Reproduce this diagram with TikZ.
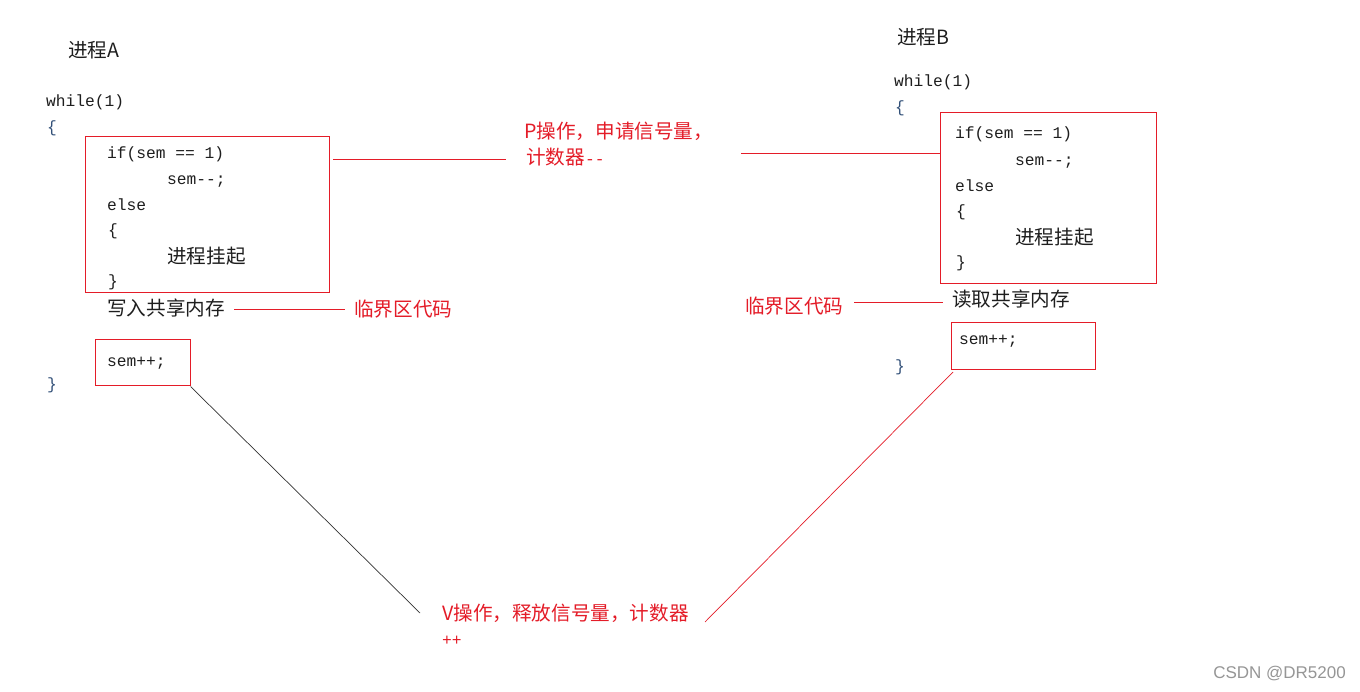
\documentclass[tikz,border=0pt]{standalone}
\usepackage{fontspec}
\setmonofont{Liberation Mono}
\newfontfamily\cjk{Noto Sans CJK SC}
\newfontfamily\wmark{Liberation Sans}
\definecolor{redc}{RGB}{228,28,40}
\definecolor{codec}{RGB}{30,30,30}
\definecolor{bracec}{RGB}{50,80,120}
\definecolor{markc}{RGB}{150,150,150}
\newcommand{\monopart}[1]{{\fontsize{16.25}{18}\ttfamily #1}}
\begin{document}
\begin{tikzpicture}[x=1pt,y=-1pt,
  code/.style={anchor=west,inner sep=0pt,yshift=-3pt,text=codec,font=\fontsize{16.25}{18}\ttfamily,text height=0.72em,text depth=0.22em},
  outbrace/.style={code,text=bracec},
  cjkt/.style={anchor=west,inner sep=0pt,yshift=-4.5pt,text=codec,font=\fontsize{19.6}{21}\cjk,text height=0.8em,text depth=0.2em},
  redt/.style={cjkt,text=redc},
  redbox/.style={draw=redc,line width=1pt,inner sep=0pt},
  redline/.style={draw=redc,line width=0.9pt},
  blkline/.style={draw=black!80,line width=0.7pt}]
\useasboundingbox (0,0) rectangle (1360,692);
\fill[white] (0,0) rectangle (1360,692);

% ---------- Process A ----------
\node[cjkt] (titleA) at (68,50) {进程A};
\node[code] (whileA) at (46,101) {while(1)};
\node[outbrace] (obA) at (47,127) {\{};
\node[redbox,minimum width=244,minimum height=156] (boxA1) at (207,215) {};
\node[code] (ifA) at (107,153) {if(sem == 1)};
\node[code] (decA) at (167,179) {sem--;};
\node[code] (elseA) at (107,205) {else};
\node[code] (ibA) at (108,230) {\{};
\node[cjkt] (suspA) at (167,256) {进程挂起};
\node[code] (icA) at (108,281) {\}};
\node[cjkt] (writeA) at (107,308) {写入共享内存};
\node[redt] (critA) at (354,309) {临界区代码};
\node[redbox,minimum width=95,minimum height=46] (boxA2) at (142.5,363) {};
\node[code] (incA) at (107,361) {sem++;};
\node[outbrace] (ocA) at (47,384) {\}};

% ---------- Process B ----------
\node[cjkt] (titleB) at (897,37) {进程B};
\node[code] (whileB) at (894,81) {while(1)};
\node[outbrace] (obB) at (895,107) {\{};
\node[redbox,minimum width=216,minimum height=171] (boxB1) at (1048,198.5) {};
\node[code] (ifB) at (955,133) {if(sem == 1)};
\node[code] (decB) at (1015,160) {sem--;};
\node[code] (elseB) at (955,186) {else};
\node[code] (ibB) at (956,211) {\{};
\node[cjkt] (suspB) at (1015,237) {进程挂起};
\node[code] (icB) at (956,262) {\}};
\node[cjkt] (readB) at (952,299) {读取共享内存};
\node[redt] (critB) at (745,306) {临界区代码};
\node[redbox,minimum width=144,minimum height=47] (boxB2) at (1023,346.5) {};
\node[code] (incB) at (959,339) {sem++;};
\node[outbrace] (ocB) at (895,366) {\}};

% ---------- middle labels ----------
\node[redt] (pop1) at (524,131) {P操作，申请信号量，};
\node[redt] (pop2) at (526,157) {计数器\monopart{--}};
\node[redt] (vop1) at (442,613) {V操作，释放信号量，计数器};
\node[redt] (vop2) at (442,638) {\monopart{++}};

\node[anchor=east,inner sep=0pt,text=markc,font=\fontsize{17}{19}\wmark] (mark) at (1346,674) {CSDN @DR5200};

% ---------- connectors ----------
\coordinate (pA) at (333,159);
\coordinate (pAend) at (506,159);
\coordinate (pBstart) at (741,153);
\coordinate (cA1) at (234,309);
\coordinate (cA2) at (345,309);
\coordinate (cB1) at (854,302);
\coordinate (cB2) at (943,302);
\coordinate (vA) at (420,613);
\coordinate (vB1) at (953,372);
\coordinate (vB2) at (705,622);

\draw[redline] (pA) -- (pAend);
\draw[redline] (pBstart) -- (pBstart -| boxB1.west);
\draw[redline] (cA1) -- (cA2);
\draw[redline] (cB1) -- (cB2);
\draw[blkline] (boxA2.south east) -- (vA);
\draw[redline,line width=0.7pt] (vB1) -- (vB2);
\end{tikzpicture}
\end{document}
